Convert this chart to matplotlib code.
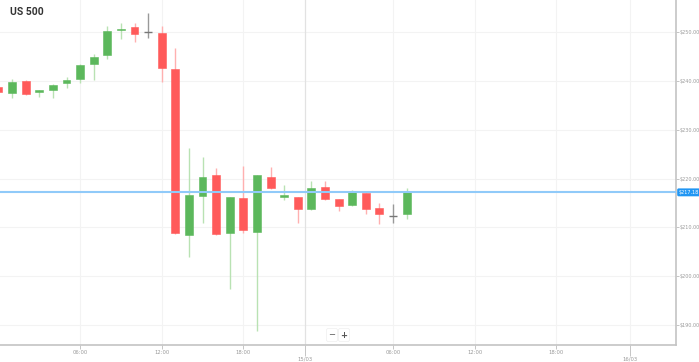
import matplotlib
matplotlib.use("Agg")
import matplotlib.pyplot as plt
import matplotlib.transforms as mtransforms

# hourly candles, 14/03 00:00 -> 15/03 07:00 (23:00 break skipped)
opens = [238.7, 237.5, 240.0, 237.7, 238.1, 239.5, 240.4, 243.4, 245.3, 250.4,
         251.0, 250.0, 249.8, 242.4, 208.4, 216.4, 220.7, 208.8, 216.0, 209.0,
         220.3, 216.3, 216.2, 213.7, 218.2, 215.8, 214.5, 217.0, 213.9, 212.3,
         212.7]
highs = [239.0, 240.4, 240.2, 238.2, 239.3, 240.8, 243.4, 245.5, 251.2, 251.8,
         251.8, 253.9, 251.2, 246.7, 226.2, 224.4, 222.1, 216.3, 222.5, 220.8,
         222.3, 218.6, 216.3, 219.5, 219.5, 215.9, 217.6, 217.1, 215.0, 214.8,
         218.0]
lows = [237.5, 236.5, 237.2, 236.7, 236.5, 238.5, 239.5, 240.2, 244.5, 248.6,
        248.0, 248.8, 239.8, 208.7, 203.9, 210.9, 208.5, 197.3, 208.8, 188.7,
        217.9, 215.6, 210.9, 213.6, 215.7, 213.3, 214.4, 212.7, 210.7, 210.9,
        211.7]
closes = [237.7, 239.8, 237.3, 238.1, 239.1, 240.2, 243.2, 244.9, 250.2, 250.6,
          249.6, 250.0, 242.6, 208.8, 216.6, 220.3, 208.6, 216.2, 209.4, 220.7,
          218.0, 216.4, 213.7, 218.0, 215.8, 214.3, 217.4, 213.7, 212.7, 212.3,
          217.18]

last_price = 217.18
price_ticks = [190, 200, 210, 220, 230, 240, 250]
time_ticks = [6, 12, 18, 29, 35, 41]
time_labels = ["06:00", "12:00", "18:00", "06:00", "12:00", "18:00"]
date_ticks = [22.5, 46.4]
date_labels = ["15/03", "16/03"]

green = "#5cb85c"
red = "#ff5a5a"
green_wick = "#b9e2b3"
red_wick = "#ffb0b0"
gray = "#777777"
lbl = "#9a9a9a"

fig = plt.figure(figsize=(6.99, 3.62), dpi=100)
ax = fig.add_axes([0, 0.047, 0.967, 0.953])

for i in range(len(opens)):
    o, h, l, c = opens[i], highs[i], lows[i], closes[i]
    if c > o:
        col, wcol = green, green_wick
    elif c < o:
        col, wcol = red, red_wick
    else:
        col, wcol = gray, "#999999"
    ax.vlines(i, l, h, color=wcol, lw=1, zorder=2)
    if c == o:
        ax.hlines(c, i - 0.3, i + 0.3, color=col, lw=1, zorder=3)
    else:
        ax.bar(i, max(abs(c - o), 0.3), bottom=min(o, c), width=0.58,
               color=col, edgecolor=col, lw=0.4, zorder=3)

ax.axhline(last_price, color="#90caf9", lw=1.5, zorder=4)

ax.set_xlim(0.11, 49.8)
ax.set_ylim(185.9, 256.6)

# grid
for p in price_ticks:
    ax.axhline(p, color="#f3f3f3", lw=0.8, zorder=0)
for t in time_ticks:
    ax.axvline(t, color="#f3f3f3", lw=0.8, zorder=0)
ax.axvline(date_ticks[0], color="#e2e2e2", lw=0.9, zorder=0)
ax.axvline(date_ticks[1], color="#f3f3f3", lw=0.8, zorder=0)

ax.yaxis.tick_right()
ax.set_yticks(price_ticks)
ax.set_yticklabels(["$%.2f" % p for p in price_ticks])
ax.tick_params(axis="y", length=2, width=0.6, color="#bbbbbb", labelsize=3.5,
               labelcolor=lbl, pad=1)

ax.set_xticks(time_ticks)
ax.set_xticklabels(time_labels)
ax.set_xticks(date_ticks, minor=True)
ax.set_xticklabels(date_labels, minor=True)
ax.tick_params(axis="x", which="major", length=3, width=0.6, color="#bbbbbb",
               labelsize=3.8, labelcolor=lbl, pad=0.5)
ax.tick_params(axis="x", which="minor", length=8, width=0.6, color="#bbbbbb",
               labelsize=3.8, labelcolor=lbl, pad=0.5)
for tk in ax.xaxis.get_minor_ticks():
    tk.tick1line.set_linestyle((0, (1, 1)))

for s in ["left", "top"]:
    ax.spines[s].set_visible(False)
ax.spines["right"].set_color("#c4c4c4")
ax.spines["right"].set_linewidth(1.2)
ax.spines["bottom"].set_color("#c4c4c4")
ax.spines["bottom"].set_linewidth(1.2)

trans = mtransforms.blended_transform_factory(ax.transAxes, ax.transData)
ax.text(1.004, last_price, "$217.18", transform=trans, va="center", ha="left",
        fontsize=3.5, color="white", zorder=6, clip_on=False,
        bbox=dict(boxstyle="round,pad=0.3,rounding_size=0.3", fc="#2196f3", ec="none"))

fig.text(10 / 699, 1 - 12 / 362, "US 500", fontsize=7.5, fontweight="bold",
         color="#333333", va="center", ha="left", family="Roboto")

# zoom buttons
fig.text(332 / 699, 1 - 335 / 362, "\u2212", fontsize=6, color="#555555", ha="center", va="center",
         bbox=dict(boxstyle="round,pad=0.25", fc="white", ec="#eeeeee", lw=0.5))
fig.text(344 / 699, 1 - 335 / 362, "+", fontsize=6, color="#555555", ha="center", va="center",
         fontweight="bold", bbox=dict(boxstyle="round,pad=0.25", fc="white", ec="#eeeeee", lw=0.5))

fig.savefig("out.png", dpi=100)
